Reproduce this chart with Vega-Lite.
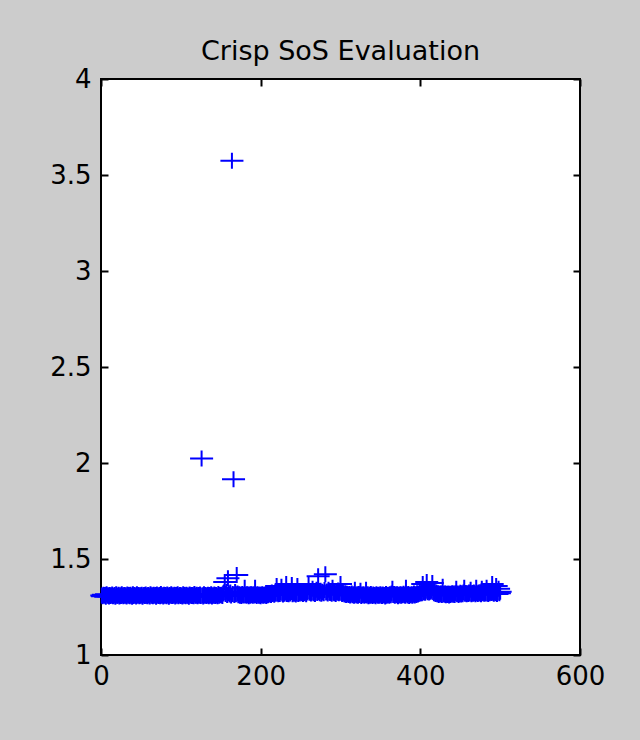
{
  "$schema": "https://vega.github.io/schema/vega-lite/v6.json",
  "width": 479,
  "height": 576,
  "autosize": {"type": "none"},
  "padding": {"left": 101, "top": 79, "right": 60, "bottom": 85},
  "background": "#cccccc",
  "title": {"text": "Crisp SoS Evaluation", "font": "DejaVu Sans", "fontSize": 27, "fontWeight": "normal", "color": "#000000", "anchor": "middle", "baseline": "alphabetic", "offset": 19, "dy": 40},
  "config": {
    "view": {"fill": "white", "stroke": "black", "strokeWidth": 2},
    "axis": {"domain": false, "grid": false, "ticks": true, "tickColor": "black", "tickWidth": 2, "tickSize": -7, "labelFont": "DejaVu Sans", "labelFontSize": 26, "labelColor": "#000000", "title": null, "labelOverlap": false, "labelFlush": false}
  },
  "data": {"values": [
{"x":1,"y":1.310},{"x":2,"y":1.306},{"x":3,"y":1.314},{"x":4,"y":1.309},{"x":5,"y":1.312},{"x":6,"y":1.304},{"x":7,"y":1.316},{"x":8,"y":1.308},{"x":9,"y":1.311},{"x":10,"y":1.305},
{"x":11,"y":1.313},{"x":12,"y":1.307},{"x":13,"y":1.310},{"x":14,"y":1.315},{"x":15,"y":1.306},{"x":16,"y":1.309},{"x":17,"y":1.312},{"x":18,"y":1.304},{"x":19,"y":1.317},{"x":20,"y":1.308},
{"x":21,"y":1.309},{"x":22,"y":1.314},{"x":23,"y":1.305},{"x":24,"y":1.311},{"x":25,"y":1.307},{"x":26,"y":1.316},{"x":27,"y":1.310},{"x":28,"y":1.306},{"x":29,"y":1.313},{"x":30,"y":1.308},
{"x":31,"y":1.311},{"x":32,"y":1.305},{"x":33,"y":1.315},{"x":34,"y":1.308},{"x":35,"y":1.312},{"x":36,"y":1.306},{"x":37,"y":1.314},{"x":38,"y":1.309},{"x":39,"y":1.303},{"x":40,"y":1.316},
{"x":41,"y":1.307},{"x":42,"y":1.312},{"x":43,"y":1.310},{"x":44,"y":1.305},{"x":45,"y":1.317},{"x":46,"y":1.309},{"x":47,"y":1.313},{"x":48,"y":1.306},{"x":49,"y":1.311},{"x":50,"y":1.308},
{"x":51,"y":1.314},{"x":52,"y":1.304},{"x":53,"y":1.310},{"x":54,"y":1.312},{"x":55,"y":1.307},{"x":56,"y":1.315},{"x":57,"y":1.309},{"x":58,"y":1.306},{"x":59,"y":1.313},{"x":60,"y":1.310},
{"x":61,"y":1.305},{"x":62,"y":1.316},{"x":63,"y":1.308},{"x":64,"y":1.311},{"x":65,"y":1.306},{"x":66,"y":1.314},{"x":67,"y":1.309},{"x":68,"y":1.312},{"x":69,"y":1.304},{"x":70,"y":1.315},
{"x":71,"y":1.310},{"x":72,"y":1.307},{"x":73,"y":1.313},{"x":74,"y":1.306},{"x":75,"y":1.318},{"x":76,"y":1.308},{"x":77,"y":1.311},{"x":78,"y":1.305},{"x":79,"y":1.314},{"x":80,"y":1.309},
{"x":81,"y":1.312},{"x":82,"y":1.306},{"x":83,"y":1.315},{"x":84,"y":1.310},{"x":85,"y":1.304},{"x":86,"y":1.313},{"x":87,"y":1.308},{"x":88,"y":1.316},{"x":89,"y":1.307},{"x":90,"y":1.311},
{"x":91,"y":1.309},{"x":92,"y":1.314},{"x":93,"y":1.305},{"x":94,"y":1.312},{"x":95,"y":1.308},{"x":96,"y":1.317},{"x":97,"y":1.306},{"x":98,"y":1.310},{"x":99,"y":1.313},{"x":100,"y":1.307},
{"x":101,"y":1.311},{"x":102,"y":1.305},{"x":103,"y":1.316},{"x":104,"y":1.309},{"x":105,"y":1.312},{"x":106,"y":1.306},{"x":107,"y":1.314},{"x":108,"y":1.308},{"x":109,"y":1.310},{"x":110,"y":1.304},
{"x":111,"y":1.315},{"x":112,"y":1.309},{"x":113,"y":1.312},{"x":114,"y":1.307},{"x":115,"y":1.313},{"x":116,"y":1.306},{"x":117,"y":1.318},{"x":118,"y":1.310},{"x":119,"y":1.308},{"x":120,"y":1.314},
{"x":121,"y":1.306},{"x":122,"y":1.312},{"x":123,"y":1.309},{"x":124,"y":1.315},{"x":125,"y":1.307},{"x":126,"y":2.024},{"x":127,"y":1.311},{"x":128,"y":1.305},{"x":129,"y":1.316},{"x":130,"y":1.309},
{"x":131,"y":1.313},{"x":132,"y":1.307},{"x":133,"y":1.310},{"x":134,"y":1.314},{"x":135,"y":1.306},{"x":136,"y":1.312},{"x":137,"y":1.308},{"x":138,"y":1.317},{"x":139,"y":1.305},{"x":140,"y":1.311},
{"x":141,"y":1.309},{"x":142,"y":1.315},{"x":143,"y":1.307},{"x":144,"y":1.313},{"x":145,"y":1.310},{"x":146,"y":1.306},{"x":147,"y":1.318},{"x":148,"y":1.308},{"x":149,"y":1.312},{"x":150,"y":1.311},
{"x":151,"y":1.314},{"x":152,"y":1.307},{"x":153,"y":1.320},{"x":154,"y":1.325},{"x":155,"y":1.380},{"x":156,"y":1.318},{"x":157,"y":1.330},{"x":158,"y":1.312},{"x":159,"y":1.400},{"x":160,"y":1.322},
{"x":161,"y":1.315},{"x":162,"y":1.326},{"x":163,"y":1.310},{"x":164,"y":3.574},{"x":165,"y":1.318},{"x":166,"y":1.915},{"x":167,"y":1.312},{"x":168,"y":1.328},{"x":169,"y":1.316},{"x":170,"y":1.417},
{"x":171,"y":1.320},{"x":172,"y":1.311},{"x":173,"y":1.316},{"x":174,"y":1.309},{"x":175,"y":1.314},{"x":176,"y":1.307},{"x":177,"y":1.318},{"x":178,"y":1.312},{"x":179,"y":1.310},{"x":180,"y":1.350},
{"x":181,"y":1.313},{"x":182,"y":1.308},{"x":183,"y":1.316},{"x":184,"y":1.311},{"x":185,"y":1.306},{"x":186,"y":1.314},{"x":187,"y":1.309},{"x":188,"y":1.317},{"x":189,"y":1.312},{"x":190,"y":1.308},
{"x":191,"y":1.315},{"x":192,"y":1.310},{"x":193,"y":1.350},{"x":194,"y":1.313},{"x":195,"y":1.307},{"x":196,"y":1.316},{"x":197,"y":1.311},{"x":198,"y":1.309},{"x":199,"y":1.314},{"x":200,"y":1.306},
{"x":201,"y":1.312},{"x":202,"y":1.317},{"x":203,"y":1.308},{"x":204,"y":1.313},{"x":205,"y":1.310},{"x":206,"y":1.315},{"x":207,"y":1.307},{"x":208,"y":1.318},{"x":209,"y":1.311},{"x":210,"y":1.314},
{"x":211,"y":1.316},{"x":212,"y":1.320},{"x":213,"y":1.312},{"x":214,"y":1.325},{"x":215,"y":1.318},{"x":216,"y":1.322},{"x":217,"y":1.314},{"x":218,"y":1.326},{"x":219,"y":1.319},{"x":220,"y":1.360},
{"x":221,"y":1.321},{"x":222,"y":1.316},{"x":223,"y":1.324},{"x":224,"y":1.318},{"x":225,"y":1.327},{"x":226,"y":1.355},{"x":227,"y":1.320},{"x":228,"y":1.315},{"x":229,"y":1.323},{"x":230,"y":1.319},
{"x":231,"y":1.326},{"x":232,"y":1.370},{"x":233,"y":1.318},{"x":234,"y":1.322},{"x":235,"y":1.316},{"x":236,"y":1.325},{"x":237,"y":1.320},{"x":238,"y":1.328},{"x":239,"y":1.365},{"x":240,"y":1.317},
{"x":241,"y":1.323},{"x":242,"y":1.319},{"x":243,"y":1.326},{"x":244,"y":1.315},{"x":245,"y":1.321},{"x":246,"y":1.360},{"x":247,"y":1.318},{"x":248,"y":1.324},{"x":249,"y":1.320},{"x":250,"y":1.327},
{"x":251,"y":1.322},{"x":252,"y":1.330},{"x":253,"y":1.318},{"x":254,"y":1.325},{"x":255,"y":1.321},{"x":256,"y":1.328},{"x":257,"y":1.316},{"x":258,"y":1.326},{"x":259,"y":1.332},{"x":260,"y":1.370},
{"x":261,"y":1.324},{"x":262,"y":1.329},{"x":263,"y":1.320},{"x":264,"y":1.327},{"x":265,"y":1.345},{"x":266,"y":1.322},{"x":267,"y":1.331},{"x":268,"y":1.318},{"x":269,"y":1.326},{"x":270,"y":1.340},
{"x":271,"y":1.323},{"x":272,"y":1.410},{"x":273,"y":1.328},{"x":274,"y":1.321},{"x":275,"y":1.335},{"x":276,"y":1.319},{"x":277,"y":1.330},{"x":278,"y":1.326},{"x":279,"y":1.322},{"x":280,"y":1.338},
{"x":281,"y":1.420},{"x":282,"y":1.325},{"x":283,"y":1.331},{"x":284,"y":1.320},{"x":285,"y":1.340},{"x":286,"y":1.327},{"x":287,"y":1.323},{"x":288,"y":1.333},{"x":289,"y":1.319},{"x":290,"y":1.350},
{"x":291,"y":1.326},{"x":292,"y":1.322},{"x":293,"y":1.332},{"x":294,"y":1.318},{"x":295,"y":1.328},{"x":296,"y":1.324},{"x":297,"y":1.336},{"x":298,"y":1.321},{"x":299,"y":1.327},{"x":300,"y":1.370},
{"x":301,"y":1.323},{"x":302,"y":1.318},{"x":303,"y":1.326},{"x":304,"y":1.320},{"x":305,"y":1.315},{"x":306,"y":1.322},{"x":307,"y":1.313},{"x":308,"y":1.319},{"x":309,"y":1.316},{"x":310,"y":1.312},
{"x":311,"y":1.318},{"x":312,"y":1.310},{"x":313,"y":1.315},{"x":314,"y":1.320},{"x":315,"y":1.311},{"x":316,"y":1.317},{"x":317,"y":1.308},{"x":318,"y":1.340},{"x":319,"y":1.314},{"x":320,"y":1.310},
{"x":321,"y":1.316},{"x":322,"y":1.309},{"x":323,"y":1.318},{"x":324,"y":1.312},{"x":325,"y":1.335},{"x":326,"y":1.307},{"x":327,"y":1.315},{"x":328,"y":1.311},{"x":329,"y":1.317},{"x":330,"y":1.309},
{"x":331,"y":1.313},{"x":332,"y":1.340},{"x":333,"y":1.310},{"x":334,"y":1.316},{"x":335,"y":1.306},{"x":336,"y":1.314},{"x":337,"y":1.309},{"x":338,"y":1.318},{"x":339,"y":1.311},{"x":340,"y":1.307},
{"x":341,"y":1.315},{"x":342,"y":1.310},{"x":343,"y":1.313},{"x":344,"y":1.306},{"x":345,"y":1.317},{"x":346,"y":1.312},{"x":347,"y":1.308},{"x":348,"y":1.314},{"x":349,"y":1.309},{"x":350,"y":1.316},
{"x":351,"y":1.311},{"x":352,"y":1.307},{"x":353,"y":1.315},{"x":354,"y":1.310},{"x":355,"y":1.313},{"x":356,"y":1.305},{"x":357,"y":1.318},{"x":358,"y":1.309},{"x":359,"y":1.312},{"x":360,"y":1.314},
{"x":361,"y":1.308},{"x":362,"y":1.316},{"x":363,"y":1.311},{"x":364,"y":1.320},{"x":365,"y":1.345},{"x":366,"y":1.312},{"x":367,"y":1.318},{"x":368,"y":1.309},{"x":369,"y":1.315},{"x":370,"y":1.311},
{"x":371,"y":1.317},{"x":372,"y":1.306},{"x":373,"y":1.313},{"x":374,"y":1.310},{"x":375,"y":1.316},{"x":376,"y":1.308},{"x":377,"y":1.314},{"x":378,"y":1.311},{"x":379,"y":1.319},{"x":380,"y":1.312},
{"x":381,"y":1.309},{"x":382,"y":1.350},{"x":383,"y":1.315},{"x":384,"y":1.310},{"x":385,"y":1.318},{"x":386,"y":1.307},{"x":387,"y":1.313},{"x":388,"y":1.311},{"x":389,"y":1.316},{"x":390,"y":1.309},
{"x":391,"y":1.314},{"x":392,"y":1.320},{"x":393,"y":1.310},{"x":394,"y":1.317},{"x":395,"y":1.312},{"x":396,"y":1.322},{"x":397,"y":1.315},{"x":398,"y":1.318},{"x":399,"y":1.325},{"x":400,"y":1.320},
{"x":401,"y":1.328},{"x":402,"y":1.322},{"x":403,"y":1.370},{"x":404,"y":1.326},{"x":405,"y":1.330},{"x":406,"y":1.324},{"x":407,"y":1.335},{"x":408,"y":1.380},{"x":409,"y":1.327},{"x":410,"y":1.332},
{"x":411,"y":1.325},{"x":412,"y":1.338},{"x":413,"y":1.329},{"x":414,"y":1.334},{"x":415,"y":1.375},{"x":416,"y":1.328},{"x":417,"y":1.322},{"x":418,"y":1.330},{"x":419,"y":1.318},{"x":420,"y":1.325},
{"x":421,"y":1.316},{"x":422,"y":1.322},{"x":423,"y":1.313},{"x":424,"y":1.319},{"x":425,"y":1.315},{"x":426,"y":1.320},{"x":427,"y":1.312},{"x":428,"y":1.355},{"x":429,"y":1.318},{"x":430,"y":1.314},
{"x":431,"y":1.320},{"x":432,"y":1.311},{"x":433,"y":1.317},{"x":434,"y":1.313},{"x":435,"y":1.319},{"x":436,"y":1.310},{"x":437,"y":1.316},{"x":438,"y":1.312},{"x":439,"y":1.318},{"x":440,"y":1.321},
{"x":441,"y":1.314},{"x":442,"y":1.319},{"x":443,"y":1.312},{"x":444,"y":1.322},{"x":445,"y":1.345},{"x":446,"y":1.316},{"x":447,"y":1.320},{"x":448,"y":1.313},{"x":449,"y":1.318},{"x":450,"y":1.324},
{"x":451,"y":1.315},{"x":452,"y":1.321},{"x":453,"y":1.317},{"x":454,"y":1.326},{"x":455,"y":1.350},{"x":456,"y":1.319},{"x":457,"y":1.323},{"x":458,"y":1.316},{"x":459,"y":1.322},{"x":460,"y":1.318},
{"x":461,"y":1.325},{"x":462,"y":1.320},{"x":463,"y":1.340},{"x":464,"y":1.317},{"x":465,"y":1.323},{"x":466,"y":1.319},{"x":467,"y":1.326},{"x":468,"y":1.321},{"x":469,"y":1.316},{"x":470,"y":1.350},
{"x":471,"y":1.322},{"x":472,"y":1.318},{"x":473,"y":1.325},{"x":474,"y":1.320},{"x":475,"y":1.327},{"x":476,"y":1.317},{"x":477,"y":1.345},{"x":478,"y":1.321},{"x":479,"y":1.324},{"x":480,"y":1.319},
{"x":481,"y":1.326},{"x":482,"y":1.320},{"x":483,"y":1.350},{"x":484,"y":1.322},{"x":485,"y":1.318},{"x":486,"y":1.325},{"x":487,"y":1.321},{"x":488,"y":1.328},{"x":489,"y":1.323},{"x":490,"y":1.370},
{"x":491,"y":1.324},{"x":492,"y":1.319},{"x":493,"y":1.327},{"x":494,"y":1.322},{"x":495,"y":1.360},{"x":496,"y":1.318},{"x":497,"y":1.326},{"x":498,"y":1.345},{"x":499,"y":1.321},{"x":500,"y":1.330}
  ]},
  "layer": [
    {
      "mark": {"type": "point", "shape": "M-1.44,0H1.44M0,-1V1", "filled": false, "size": 256, "strokeWidth": 2, "color": "#0000ff", "opacity": 1, "clip": false},
      "encoding": {
        "x": {"field": "x", "type": "quantitative", "scale": {"domain": [0, 600], "nice": false, "zero": false}, "axis": {"orient": "bottom", "values": [0, 200, 400, 600], "format": "d", "labelPadding": 15}},
        "y": {"field": "y", "type": "quantitative", "scale": {"domain": [1, 4], "nice": false, "zero": false}, "axis": {"orient": "left", "values": [1, 1.5, 2, 2.5, 3, 3.5, 4], "format": "~g", "labelPadding": 17}}
      }
    },
    {
      "mark": {"type": "point", "opacity": 0},
      "encoding": {
        "x": {"field": "x", "type": "quantitative", "axis": {"orient": "top", "values": [0, 200, 400, 600], "labels": false}},
        "y": {"field": "y", "type": "quantitative", "axis": {"orient": "right", "values": [1, 1.5, 2, 2.5, 3, 3.5, 4], "labels": false}}
      }
    }
  ],
  "resolve": {"axis": {"x": "independent", "y": "independent"}}
}
